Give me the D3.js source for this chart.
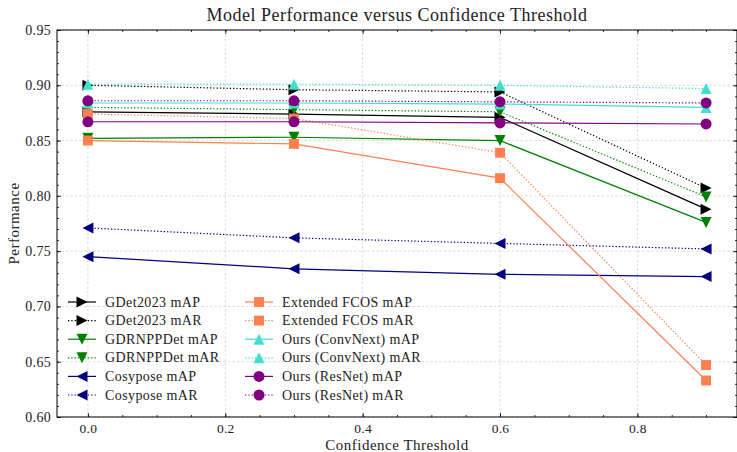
<!DOCTYPE html>
<html>
<head>
<meta charset="utf-8">
<script src="https://cdn.jsdelivr.net/npm/d3@7"></script>
<style>
  body { margin: 0; background: #fff; }
  svg { display: block; font-family: "Liberation Serif", "DejaVu Serif", serif; }
</style>
</head>
<body>
<svg width="737" height="452"></svg>
<script>
// confidence thresholds on the x axis
var thresholds = [0.0, 0.3, 0.6, 0.9];

// performance values
var gdetMAP     = [0.876, 0.874, 0.871, 0.788];
var gdetMAR     = [0.900, 0.896, 0.894, 0.807];
var gdrnMAP     = [0.852, 0.853, 0.850, 0.776];
var gdrnMAR     = [0.880, 0.878, 0.876, 0.799];
var cosyMAP     = [0.745, 0.734, 0.729, 0.727];
var cosyMAR     = [0.771, 0.762, 0.757, 0.752];
var fcosMAP     = [0.850, 0.847, 0.816, 0.633];
var fcosMAR     = [0.874, 0.870, 0.839, 0.647];
var convnextMAP = [0.884, 0.884, 0.883, 0.880];
var convnextMAR = [0.901, 0.901, 0.900, 0.897];
var resnetMAP   = [0.867, 0.867, 0.866, 0.865];
var resnetMAR   = [0.886, 0.886, 0.885, 0.884];

var xTicks = [0.0, 0.2, 0.4, 0.6, 0.8];
var yTicks = [0.60, 0.65, 0.70, 0.75, 0.80, 0.85, 0.90, 0.95];

var series = [
  { label: "GDet2023 mAP",          values: gdetMAP,     model: "gdet",  dotted: false },
  { label: "GDet2023 mAR",          values: gdetMAR,     model: "gdet",  dotted: true },
  { label: "GDRNPPDet mAP",         values: gdrnMAP,     model: "gdrn",  dotted: false },
  { label: "GDRNPPDet mAR",         values: gdrnMAR,     model: "gdrn",  dotted: true },
  { label: "Cosypose mAP",          values: cosyMAP,     model: "cosy",  dotted: false },
  { label: "Cosypose mAR",          values: cosyMAR,     model: "cosy",  dotted: true },
  { label: "Extended FCOS mAP",     values: fcosMAP,     model: "fcos",  dotted: false },
  { label: "Extended FCOS mAR",     values: fcosMAR,     model: "fcos",  dotted: true },
  { label: "Ours (ConvNext) mAP",   values: convnextMAP, model: "convnext", dotted: false },
  { label: "Ours (ConvNext) mAR",   values: convnextMAR, model: "convnext", dotted: true },
  { label: "Ours (ResNet) mAP",     values: resnetMAP,   model: "resnet", dotted: false },
  { label: "Ours (ResNet) mAR",     values: resnetMAR,   model: "resnet", dotted: true }
];

// colour + marker per model
var styles = {
  gdet:     { color: "#000000", marker: "right" },
  gdrn:     { color: "#008000", marker: "down" },
  cosy:     { color: "#000080", marker: "left" },
  fcos:     { color: "#FF7F50", marker: "square" },
  convnext: { color: "#40E0D0", marker: "up" },
  resnet:   { color: "#800080", marker: "circle" }
};

// matplotlib-like marker shapes, m = marker size in px
var markerPath = function(kind, m) {
  var h = m / 2;
  if (kind === "circle") {
    var r = m / 2;
    return "M" + r + ",0A" + r + "," + r + " 0 1,1 " + (-r) + ",0A" + r + "," + r + " 0 1,1 " + r + ",0Z";
  }
  if (kind === "square") {
    var s = m * 0.45;
    return "M" + (-s) + "," + (-s) + "H" + s + "V" + s + "H" + (-s) + "Z";
  }
  if (kind === "up")    return "M0," + (-h) + "L" + h + "," + h + "L" + (-h) + "," + h + "Z";
  if (kind === "down")  return "M0," + h + "L" + h + "," + (-h) + "L" + (-h) + "," + (-h) + "Z";
  if (kind === "right") return "M" + h + ",0L" + (-h) + "," + (-h) + "L" + (-h) + "," + h + "Z";
  if (kind === "left")  return "M" + (-h) + ",0L" + h + "," + (-h) + "L" + h + "," + h + "Z";
};

var svg = d3.select("svg");

var margin = { top: 30, right: 0, bottom: 35, left: 57 };
var width = 737 - margin.left - margin.right;
var height = 452 - margin.top - margin.bottom;

var x = d3.scaleLinear().domain([-0.045, 0.945]).range([0, width]);
var y = d3.scaleLinear().domain([0.60, 0.95]).range([height, 0]);

var plot = svg.append("g")
  .attr("transform", "translate(" + margin.left + "," + margin.top + ")");

// dashed grid at major ticks
var grid = plot.append("g").attr("class", "grid");
grid.selectAll("line.gx")
  .data(xTicks)
  .enter()
  .append("line")
  .attr("x1", function(d) { return x(d); })
  .attr("x2", function(d) { return x(d); })
  .attr("y1", 0)
  .attr("y2", height);
grid.selectAll("line.gy")
  .data(yTicks)
  .enter()
  .append("line")
  .attr("x1", 0)
  .attr("x2", width)
  .attr("y1", function(d) { return y(d); })
  .attr("y2", function(d) { return y(d); });
grid.selectAll("line")
  .attr("stroke", "#d2d2d2")
  .attr("stroke-width", 0.8)
  .attr("stroke-dasharray", "2.5,2");

// axes with inward ticks on all sides
var xMinor = d3.range(0, 0.95, 0.05);
var yMinor = d3.range(0.60, 0.951, 0.01);

plot.append("g")
  .attr("transform", "translate(0," + height + ")")
  .call(d3.axisBottom(x).tickValues(xMinor).tickSize(-2).tickFormat(""));
plot.append("g")
  .attr("class", "x-major")
  .attr("transform", "translate(0," + height + ")")
  .call(d3.axisBottom(x).tickValues(xTicks).tickSize(-4).tickPadding(6).tickFormat(d3.format(".1f")));
plot.append("g")
  .call(d3.axisTop(x).tickValues(xMinor).tickSize(-2).tickFormat(""));
plot.append("g")
  .call(d3.axisTop(x).tickValues(xTicks).tickSize(-4).tickFormat(""));

plot.append("g")
  .call(d3.axisLeft(y).tickValues(yMinor).tickSize(-2).tickFormat(""));
plot.append("g")
  .call(d3.axisLeft(y).tickValues(yTicks).tickSize(-4).tickPadding(6).tickFormat(d3.format(".2f")));
plot.append("g")
  .attr("transform", "translate(" + width + ",0)")
  .call(d3.axisRight(y).tickValues(yMinor).tickSize(-2).tickFormat(""));
plot.append("g")
  .attr("transform", "translate(" + width + ",0)")
  .call(d3.axisRight(y).tickValues(yTicks).tickSize(-4).tickFormat(""));

plot.selectAll(".domain").remove();
plot.selectAll(".tick line").attr("stroke", "#000").attr("stroke-width", 0.8);
plot.selectAll(".tick text")
  .attr("fill", "#222")
  .style("font-family", "Liberation Serif, serif")
  .style("font-size", "14px")
  .style("letter-spacing", "0.3px");
plot.selectAll(".x-major .tick text").style("font-size", "13.5px");

// frame
plot.append("rect")
  .attr("width", width)
  .attr("height", height)
  .attr("fill", "none")
  .attr("stroke", "#000")
  .attr("stroke-width", 1);

// lines + markers
var line = d3.line()
  .x(function(d, i) { return x(thresholds[i]); })
  .y(function(d) { return y(d); });

series.forEach(function(s) {
  var st = styles[s.model];
  var g = plot.append("g");
  g.append("path")
    .datum(s.values)
    .attr("d", line)
    .attr("fill", "none")
    .attr("stroke", st.color)
    .attr("stroke-width", 1.2)
    .attr("stroke-dasharray", s.dotted ? "1.3,2" : null);
  g.selectAll("path.mk")
    .data(s.values)
    .enter()
    .append("path")
    .attr("class", "mk")
    .attr("transform", function(d, i) { return "translate(" + x(thresholds[i]) + "," + y(d) + ")"; })
    .attr("d", markerPath(st.marker, 11))
    .attr("fill", st.color);
});

// legend, two columns, no frame
var legend = plot.append("g");
series.forEach(function(s, i) {
  var st = styles[s.model];
  var col = Math.floor(i / 6);
  var row = i % 6;
  var lx = 11 + col * 177;
  var ly = 272 + row * 18.6;
  var item = legend.append("g").attr("transform", "translate(" + lx + "," + ly + ")");
  item.append("line")
    .attr("x1", 0).attr("x2", 28)
    .attr("stroke", st.color)
    .attr("stroke-width", 1.2)
    .attr("stroke-dasharray", s.dotted ? "1.3,2" : null);
  item.append("path")
    .attr("transform", "translate(14,0)")
    .attr("d", markerPath(st.marker, 11))
    .attr("fill", st.color);
  item.append("text")
    .attr("x", 37)
    .attr("y", 4.5)
    .attr("fill", "#222")
    .style("font-size", "14px")
    .style("letter-spacing", "0.4px")
    .text(s.label);
});

// titles
svg.append("text")
  .attr("x", margin.left + width / 2)
  .attr("y", 21)
  .attr("text-anchor", "middle")
  .attr("fill", "#222")
  .style("font-size", "18px")
  .style("letter-spacing", "0.5px")
  .text("Model Performance versus Confidence Threshold");

svg.append("text")
  .attr("x", margin.left + width / 2)
  .attr("y", 450)
  .attr("text-anchor", "middle")
  .attr("fill", "#222")
  .style("font-size", "15px")
  .style("letter-spacing", "0.5px")
  .text("Confidence Threshold");

svg.append("text")
  .attr("transform", "translate(19," + (margin.top + height / 2) + ") rotate(-90)")
  .attr("text-anchor", "middle")
  .attr("fill", "#222")
  .style("font-size", "15px")
  .style("letter-spacing", "0.5px")
  .text("Performance");
</script>
</body>
</html>
